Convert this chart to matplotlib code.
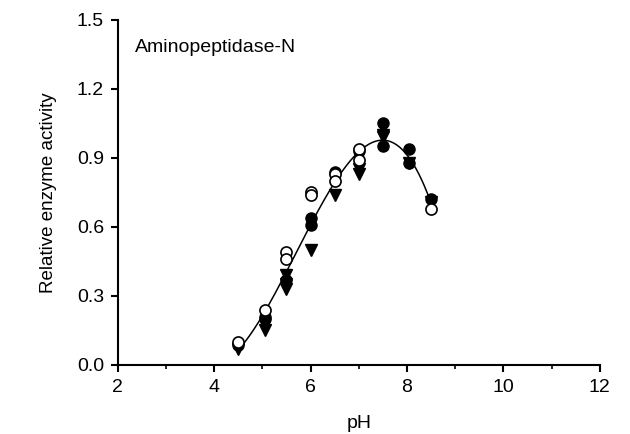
import matplotlib
matplotlib.use("Agg")
import matplotlib.pyplot as plt
import numpy as np
from matplotlib.ticker import MultipleLocator

plt.rcParams["font.family"] = ["Liberation Sans", "DejaVu Sans"]

# open circles
ph_open = [4.5, 5.05, 5.5, 5.5, 6.0, 6.0, 6.5, 6.5, 7.0, 7.0, 8.5]
act_open = [0.10, 0.24, 0.49, 0.46, 0.75, 0.74, 0.83, 0.80, 0.94, 0.89, 0.68]

# filled circles
ph_fill = [4.5, 5.05, 5.05, 5.5, 6.0, 6.0, 6.5, 7.0, 7.5, 7.5, 8.05, 8.05, 8.5]
act_fill = [0.085, 0.21, 0.20, 0.37, 0.64, 0.61, 0.84, 0.93, 1.05, 0.95, 0.94, 0.88, 0.72]

# filled triangles
ph_tri = [4.5, 5.05, 5.5, 5.5, 5.5, 6.0, 6.5, 7.0, 7.0, 7.5, 7.5, 8.05, 8.5]
act_tri = [0.07, 0.15, 0.39, 0.35, 0.33, 0.50, 0.74, 0.85, 0.83, 1.00, 0.99, 0.88, 0.71]

xticks = [2, 4, 6, 8, 10, 12]
yticks = [0.0, 0.3, 0.6, 0.9, 1.2, 1.5]

fig = plt.figure(figsize=(6.3, 4.34), dpi=100)
ax = fig.add_axes([0.187, 0.159, 0.765, 0.795])

# fitted curve through all points
all_ph = np.array(ph_open + ph_fill + ph_tri)
all_act = np.array(act_open + act_fill + act_tri)
coef = np.polyfit(all_ph, all_act, 3)
xs = np.linspace(min(all_ph), max(all_ph), 200)
ax.plot(xs, np.polyval(coef, xs), color="black", linewidth=1.1, zorder=1)

ax.plot(ph_tri, act_tri, linestyle="none", marker="v", markersize=8,
        color="black", zorder=2)
ax.plot(ph_fill, act_fill, linestyle="none", marker="o", markersize=8,
        color="black", zorder=3)
ax.plot(ph_open, act_open, linestyle="none", marker="o", markersize=8,
        markerfacecolor="white", markeredgecolor="black", markeredgewidth=1.2,
        zorder=4)

ax.set_xlim(2, 12)
ax.set_ylim(0, 1.5)
ax.set_xticks(xticks)
ax.set_yticks(yticks)
ax.set_yticklabels([f"{v:.1f}" for v in yticks])
ax.xaxis.set_minor_locator(MultipleLocator(1))
ax.spines["top"].set_visible(False)
ax.spines["right"].set_visible(False)
ax.spines["left"].set_linewidth(1.5)
ax.spines["bottom"].set_linewidth(1.5)
ax.tick_params(direction="out", length=5, width=1.5, labelsize=14, pad=5)
ax.tick_params(which="minor", direction="out", length=3, width=1.2)
ax.set_xlabel("pH", fontsize=14, labelpad=14)
ax.set_ylabel("Relative enzyme activity", fontsize=13.5, labelpad=14)
ax.text(2.35, 1.38, "Aminopeptidase-N", fontsize=14, va="center")

fig.savefig("out.png", dpi=100)
